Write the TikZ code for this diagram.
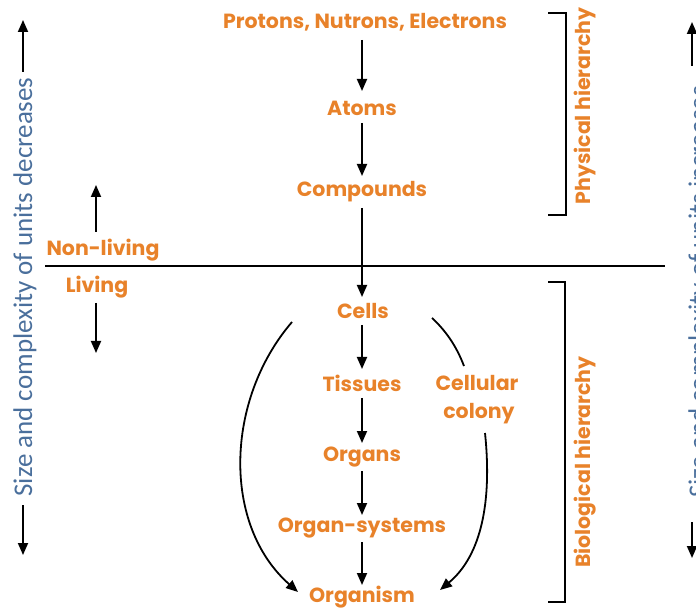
\documentclass[tikz,border=0pt]{standalone}
\usepackage{fontspec}
\setmainfont{Poppins}
\newfontfamily\bluefont{Carlito}
\usetikzlibrary{arrows.meta}
\definecolor{orng}{HTML}{E8822A}
\definecolor{bluet}{HTML}{4A6F9C}
\tikzset{
  lbl/.style={text=orng, font=\bfseries\fontsize{20.5}{24}\selectfont, inner sep=1pt},
  side/.style={text=bluet, font=\bluefont\fontsize{27}{30}\selectfont, inner sep=0pt, rotate=90},
  arr/.style={-{Triangle[width=10pt,length=12pt]}, line width=1.8pt},
  ln/.style={line width=1.8pt},
}
\begin{document}
\begin{tikzpicture}[x=1pt,y=-1pt]
\useasboundingbox (0,0) rectangle (696,609);
\node[lbl] (pne) at (365,22) {Protons, Nutrons, Electrons};
\node[lbl] (atoms) at (362,108) {Atoms};
\node[lbl] (comp) at (362,192) {Compounds};
\node[lbl] (cells) at (363,311) {Cells};
\node[lbl] (tiss) at (362,383) {Tissues};
\node[lbl] (cell1) at (477,383) {Cellular};
\node[lbl] (cell2) at (479,414) {colony};
\node[lbl] (organs) at (362,457) {Organs};
\node[lbl] (osys) at (362,528) {Organ-systems};
\node[lbl] (orgm) at (362,597) {Organism};
\node[lbl] (nl) at (103,250) {Non-living};
\node[lbl] (lv) at (97,287) {Living};
\node[lbl, rotate=90] (phys) at (585,106) {Physical hierarchy};
\node[lbl, rotate=90] (bio) at (585,462) {Biological hierarchy};
\node[side] (lside) at (25,287) {Size and complexity of units decreases};
\node[side] (rside) at (700,292) {Size and complexity of units increases};
% main chain coordinates
\coordinate (a1) at (362,40);  \coordinate (a2) at (362,91);
\coordinate (b1) at (362,123); \coordinate (b2) at (362,176);
\coordinate (c1) at (362,208); \coordinate (c2) at (362,297);
\coordinate (d1) at (362,325); \coordinate (d2) at (362,369);
\coordinate (e1) at (362,398); \coordinate (e2) at (362,443);
\coordinate (f1) at (362,471); \coordinate (f2) at (362,515);
\coordinate (g1) at (362,542); \coordinate (g2) at (362,585);
\draw[arr] (a1) -- (a2);
\draw[arr] (b1) -- (b2);
\draw[arr] (c1) -- (c2);
\draw[arr] (d1) -- (d2);
\draw[arr] (e1) -- (e2);
\draw[arr] (f1) -- (f2);
\draw[arr] (g1) -- (g2);
% divider
\coordinate (dl) at (45,266);
\coordinate (dr) at (665,266);
\draw[line width=1.5pt] (dl) -- (dr);
% small arrows
\coordinate (nl1) at (96,232); \coordinate (nl2) at (96,185);
\coordinate (lv1) at (96,303); \coordinate (lv2) at (96,353);
\draw[arr] (nl1) -- (nl2);
\draw[arr] (lv1) -- (lv2);
% curves
\coordinate (L1) at (292,322); \coordinate (L2) at (298,592);
\draw[arr] (L1) .. controls (225,400) and (222,525) .. (L2);
\coordinate (R1) at (432,318); \coordinate (R2) at (464,366);
\draw[ln] (R1) .. controls (445,330) and (456,345) .. (R2);
\coordinate (R3) at (485,433); \coordinate (R4) at (440,590);
\draw[arr] (R3) .. controls (492,500) and (482,555) .. (R4);
% brackets
\draw[ln] (548,13) -- (566,13) -- (566,215) -- (548,215);
\draw[ln] (548,282) -- (565,282) -- (565,602) -- (548,602);
% side arrows
\coordinate (lt1) at (23,72);  \coordinate (lt2) at (23,20);
\coordinate (lb1) at (23,505); \coordinate (lb2) at (23,555);
\coordinate (rt1) at (692,66); \coordinate (rt2) at (692,22);
\coordinate (rb1) at (692,522); \coordinate (rb2) at (692,558);
\draw[arr] (lt1) -- (lt2);
\draw[arr] (lb1) -- (lb2);
\draw[arr] (rt1) -- (rt2);
\draw[arr] (rb1) -- (rb2);
\end{tikzpicture}
\end{document}
